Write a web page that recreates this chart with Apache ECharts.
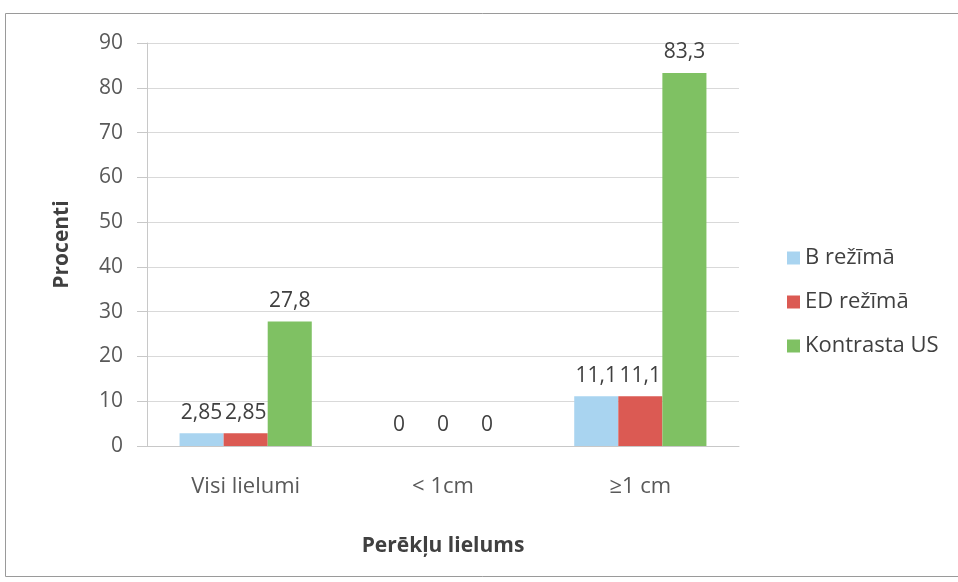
<!DOCTYPE html>
<html>
<head>
<meta charset="utf-8">
<script src="https://cdn.jsdelivr.net/npm/echarts@6/dist/echarts.min.js"></script>
<style>
html,body{margin:0;padding:0;background:#fff;}
#chart{width:958px;height:582px;}
</style>
</head>
<body>
<div id="chart"></div>
<script>
// Lesion size categories and detection percentages per imaging mode
const categories = ['Visi lielumi', '< 1cm', '≥1 cm'];
const seriesNames = ['B režīmā', 'ED režīmā', 'Kontrasta US'];
const bMode = [2.85, 0, 11.1];
const edMode = [2.85, 0, 11.1];
const contrastUS = [27.8, 0, 83.3];
const yTicks = [0, 10, 20, 30, 40, 50, 60, 70, 80, 90];

const colors = ['#a9d4f0', '#db5a53', '#7fc163'];
const FONT = '"Open Sans", sans-serif';

const chart = echarts.init(document.getElementById('chart'), null, {renderer: 'canvas'});

function fmt(v) { return String(v).replace('.', ','); }

function makeSeries(name, data, color) {
  return {
    name: name,
    type: 'bar',
    data: data,
    barGap: '0%',
    barCategoryGap: '33%',
    itemStyle: {color: color},
    label: {
      show: true,
      position: 'top',
      distance: 10,
      color: '#404040',
      fontFamily: FONT,
      fontSize: 21,
      formatter: p => fmt(p.value)
    }
  };
}

chart.setOption({
  animation: false,
  backgroundColor: '#fff',
  graphic: [{
    type: 'rect',
    shape: {x: 5.5, y: 13.5, width: 960, height: 563},
    style: {fill: 'none', stroke: '#9a9a9a', lineWidth: 1},
    silent: true
  }],
  grid: {left: 147, right: 219, top: 43, bottom: 136},
  legend: {
    orient: 'vertical',
    left: 782,
    top: 242,
    itemWidth: 13,
    itemHeight: 13,
    itemGap: 22,
    icon: 'rect',
    textStyle: {color: '#404040', fontFamily: FONT, fontSize: 22},
    data: seriesNames
  },
  xAxis: {
    type: 'category',
    data: categories,
    name: 'Perēkļu lielums',
    nameLocation: 'middle',
    nameGap: 90,
    nameTextStyle: {color: '#404040', fontFamily: FONT, fontSize: 21, fontWeight: 'bold'},
    axisLine: {show: true, lineStyle: {color: '#c8c8c8'}},
    axisTick: {show: false},
    axisLabel: {color: '#595959', fontFamily: FONT, fontSize: 22, margin: 30}
  },
  yAxis: {
    type: 'value',
    min: yTicks[0],
    max: yTicks[yTicks.length - 1],
    interval: 10,
    name: 'Procenti',
    nameLocation: 'middle',
    nameGap: 74,
    nameTextStyle: {color: '#404040', fontFamily: FONT, fontSize: 21, fontWeight: 'bold'},
    axisLine: {show: true, lineStyle: {color: '#c8c8c8'}},
    axisTick: {show: true, length: 10, lineStyle: {color: '#c8c8c8'}},
    axisLabel: {color: '#595959', fontFamily: FONT, fontSize: 21, margin: 24},
    splitLine: {show: true, lineStyle: {color: '#d9d9d9'}}
  },
  series: [
    makeSeries(seriesNames[0], bMode, colors[0]),
    makeSeries(seriesNames[1], edMode, colors[1]),
    makeSeries(seriesNames[2], contrastUS, colors[2])
  ]
});
</script>
</body>
</html>
